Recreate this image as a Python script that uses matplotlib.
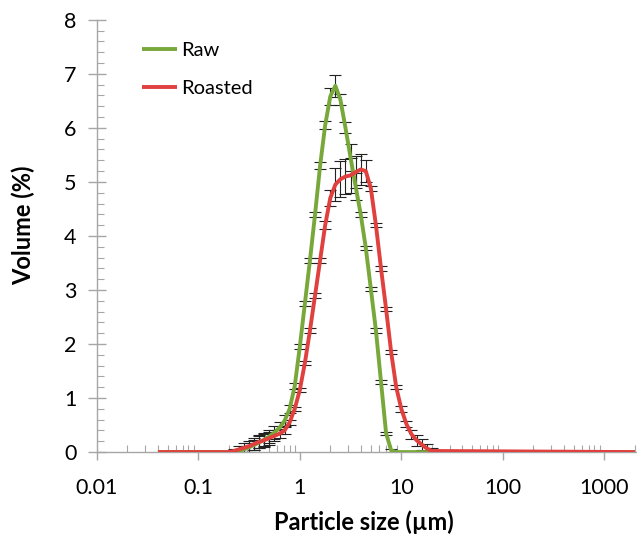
import numpy as np
import matplotlib.pyplot as plt
from matplotlib.ticker import LogLocator, NullFormatter, FixedLocator, MultipleLocator

plt.rcParams['font.family'] = ['Lato', 'DejaVu Sans']

# particle size classes (um), 20 per decade between 0.2 and 20, plus flat ends
sizes = [0.040, 0.200, 0.224, 0.251, 0.282, 0.316, 0.355, 0.398, 0.447, 0.501, 0.562,
         0.631, 0.708, 0.794, 0.891, 1.000, 1.122, 1.259, 1.413, 1.585, 1.778,
         1.995, 2.239, 2.512, 2.818, 3.162, 3.548, 3.981, 4.467, 5.012, 5.623,
         6.310, 7.079, 7.943, 8.913, 10.00, 11.22, 12.59, 14.13, 15.85, 17.78,
         19.95, 2000.0]

raw = [0, 0, 0, 0.02, 0.05, 0.09, 0.13, 0.18, 0.23, 0.29, 0.36,
       0.45, 0.58, 0.80, 1.22, 1.95, 2.75, 3.55, 4.40, 5.30, 6.05,
       6.58, 6.78, 6.52, 6.00, 5.45, 4.92, 4.40, 3.78, 3.02, 2.25,
       1.30, 0.35, 0.03, 0, 0, 0, 0, 0, 0, 0,
       0, 0]
raw_err = [0, 0, 0, 0.04, 0.06, 0.08, 0.10, 0.11, 0.12, 0.12, 0.12,
           0.11, 0.10, 0.08, 0.06, 0.05, 0.05, 0.05, 0.05, 0.06, 0.08,
           0.15, 0.20, 0.10, 0.10, 0.25, 0.25, 0.05, 0.04, 0.04, 0.04,
           0.04, 0.03, 0.02, 0, 0, 0, 0, 0, 0, 0,
           0, 0]

roasted = [0, 0, 0.02, 0.05, 0.08, 0.11, 0.15, 0.19, 0.22, 0.26, 0.30,
           0.34, 0.40, 0.55, 0.80, 1.15, 1.65, 2.25, 2.90, 3.55, 4.20,
           4.70, 4.95, 5.05, 5.10, 5.12, 5.18, 5.23, 5.20, 4.88, 4.20,
           3.40, 2.65, 1.85, 1.20, 0.80, 0.52, 0.33, 0.22, 0.14, 0.07,
           0.02, 0]
roasted_err = [0, 0, 0.04, 0.06, 0.08, 0.10, 0.11, 0.12, 0.12, 0.12, 0.10,
               0.08, 0.06, 0.05, 0.04, 0.04, 0.04, 0.04, 0.05, 0.05, 0.08,
               0.15, 0.30, 0.33, 0.33, 0.32, 0.30, 0.28, 0.20, 0.05, 0.04,
               0.04, 0.04, 0.04, 0.04, 0.05, 0.06, 0.08, 0.10, 0.10, 0.08,
               0.05, 0]

green = '#78a83a'
red = '#e0403e'
grey = '#a6a6a6'

fig = plt.figure(figsize=(6.37, 5.35), dpi=100)
ax = fig.add_axes([0.152, 0.155, 0.848, 0.808])

x = np.array(sizes)
for vals, errs, col, name in [(raw, raw_err, green, 'Raw'), (roasted, roasted_err, red, 'Roasted')]:
    v = np.array(vals)
    e = np.array(errs)
    m = v > 0
    ax.errorbar(x[m], v[m], yerr=e[m], fmt='none', ecolor='#222222', elinewidth=0.8,
                capsize=4.5, capthick=0.8, zorder=2)
    ax.plot(x, v, color=col, lw=2.8, label=name, zorder=3, solid_capstyle='butt',
            solid_joinstyle='round')

ax.set_xscale('log')
ax.set_xlim(0.01, 2100)
ax.set_ylim(0, 8)

for s in ['top', 'right']:
    ax.spines[s].set_visible(False)
for s in ['left', 'bottom']:
    ax.spines[s].set_color(grey)
    ax.spines[s].set_linewidth(1.0)

ax.xaxis.set_major_locator(FixedLocator([0.01, 0.1, 1, 10, 100, 1000]))
ax.set_xticklabels(['0.01', '0.1', '1', '10', '100', '1000'])
ax.xaxis.set_minor_locator(LogLocator(base=10, subs=np.arange(2, 10), numticks=20))
ax.xaxis.set_minor_formatter(NullFormatter())
ax.yaxis.set_major_locator(MultipleLocator(1))
ax.yaxis.set_minor_locator(MultipleLocator(0.2))

ax.tick_params(axis='x', which='major', direction='out', length=6, width=1, color=grey,
               labelsize=15.5, pad=13)
ax.tick_params(axis='x', which='minor', direction='in', length=5, width=0.8, color=grey)
ax.tick_params(axis='y', which='major', direction='inout', length=13, width=1, color=grey,
               labelsize=15.5, pad=8)
ax.tick_params(axis='y', which='minor', direction='in', length=5, width=0.8, color=grey)

ax.set_xlabel('Particle size (µm)', fontsize=17, fontweight='bold')
ax.set_ylabel('Volume (%)', fontsize=17, fontweight='bold')
ax.xaxis.set_label_coords(0.495, -0.135)
ax.yaxis.set_label_coords(-0.135, 0.525)
ax.xaxis.label.set_va('top')
ax.yaxis.label.set_va('center')

ax.legend(loc='upper left', bbox_to_anchor=(0.05, 0.99), frameon=False, fontsize=14.5,
          handlelength=1.75, handletextpad=0.2, labelspacing=1.0)

fig.savefig('out.png', dpi=100)
